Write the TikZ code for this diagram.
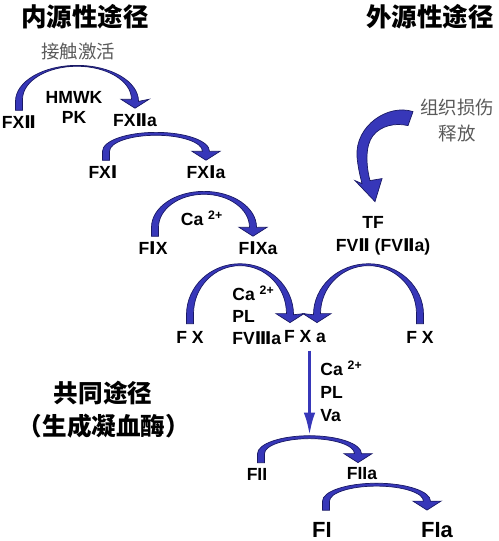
\documentclass[tikz,border=0pt]{standalone}
\usepackage{fontspec}
\setmainfont{Liberation Sans}
\newfontfamily\cjk{Noto Sans CJK SC}
\newfontfamily\rmnfont{DejaVu Sans}
\usetikzlibrary{calc, arrows.meta}

\definecolor{flowblue}{RGB}{55,55,185}
\definecolor{flowdark}{RGB}{25,25,100}
\definecolor{notegray}{RGB}{90,90,90}

\newcommand{\rmn}[1]{{\rmnfont\bfseries #1}}

%curved conversion arrow: height, foot, tip
\newcommand{\activ}[3]{%
	\fill[flowfill] let \p1 = (#2), \p2 = (#3),
		\n1 = {abs(\x2-\x1)/2},
		\n2 = {#1*0.569},
		\n3 = {ifthenelse(\x2>\x1,1,-1)} in
		({\x1-(\n3)*2pt}, {\y1+2.8pt}) -- ({\x1-(\n3)*2pt}, {\y1+7.9pt})
		arc [start angle={90+90*(\n3)}, end angle={90-90*(\n3)}, x radius={(\n1+2)*1pt}, y radius={\n2*1pt}]
		-- ({\x2+(\n3)*8pt}, {\y2+7.9pt}) -- ({\x2}, {\y2+2.8pt}) -- ({\x2-(\n3)*8pt}, {\y2+7.9pt})
		-- ({\x2-(\n3)*2pt}, {\y2+7.9pt})
		arc [start angle={90-90*(\n3)}, end angle={90+90*(\n3)}, x radius={(\n1-2)*1pt}, y radius={(\n2-1.7)*1pt}]
		-- ({\x1+(\n3)*2pt}, {\y1+2.8pt}) -- cycle;
}

\begin{document}
\begin{tikzpicture}[x=0.02cm, y=0.02cm,
		fac/.style={font=\fontsize{10}{12.5}\selectfont\bfseries, inner sep=0pt},
		big/.style={font=\fontsize{12.5}{15}\selectfont\bfseries, inner sep=0pt},
		cof/.style={font=\fontsize{10}{12.5}\selectfont\bfseries, inner sep=0pt, align=left, anchor=west},
		title/.style={font=\cjk\fontsize{14.5}{17}\selectfont\bfseries, inner sep=0pt},
		note/.style={font=\cjk\fontsize{10.5}{14.8}\selectfont, text=notegray, inner sep=0pt, align=center},
		flowfill/.style={fill=flowblue, draw=flowdark, line width=0.4pt},
		downflow/.style={draw=flowblue, line width=1.8pt, -{Latex[length=13pt, width=6.5pt]}, shorten <=4pt}]
		\useasboundingbox (0,0) rectangle (498,541);

		%titles
		\node[title] (intr) at (85,524) {内源性途径};
		\node[title] (extr) at (430,524) {外源性途径};
		\node[title, font=\cjk\fontsize{14}{17}\selectfont\bfseries] (comm) at (103,148) {共同途径};
		\node[title, font=\cjk\fontsize{14}{17}\selectfont\bfseries] (thr) at (104,115) {（生成凝血酶）};
		\node[note] (contact) at (78,489) {接触激活};
		\node[note] (tissue) at (457,420) {组织损伤\\释放};

		%intrinsic
		\node[fac] (FXII) at (19,419) {FX\rmn{Ⅱ}};
		\node[fac, align=center, font=\fontsize{10}{11.4}\selectfont\bfseries] (HK) at (74,434) {HMWK\\PK};
		\node[fac] (FXIIa) at (135,421) {FX\rmn{Ⅱ}a};
		\node[fac] (FXI) at (103,369) {FX\rmn{Ⅰ}};
		\node[fac] (FXIa) at (206,369) {FX\rmn{Ⅰ}a};
		\node[fac] (caA) at (202,323) {Ca \textsuperscript{2+}};
		\node[fac] (FIX) at (153,293) {F\rmn{Ⅰ}X};
		\node[fac] (FIXa) at (258,293) {F\rmn{Ⅰ}Xa};

		%extrinsic
		\node[fac] (TF) at (373,319) {TF};
		\node[fac] (FVII) at (383,294) {FV\rmn{Ⅱ} (FV\rmn{Ⅱ}a)};

		%FX
		\node[fac] (FXl) at (190,204) {F X};
		\node[cof] (cofB) at (232,226) {Ca \textsuperscript{2+}\\PL\\FV\rmn{Ⅲ}a};
		\node[fac] (FXa) at (305,204) {F X a};
		\node[fac] (FXr) at (420,204) {F X};

		%common
		\node[cof, font=\fontsize{10}{13}\selectfont\bfseries] (cofC) at (320,150) {Ca \textsuperscript{2+}\\PL\\Va};
		\node[fac] (FII) at (257,67) {FII};
		\node[fac] (FIIa) at (362,67) {FIIa};
		\node[big] (FI) at (322,11) {FI};
		\node[big] (FIa) at (437,11) {FIa};
		\coordinate (IItop) at ($(FII.north)!0.5!(FIIa.north)+(0,32)$);

		%arrows
		\activ{36}{FXII.north}{FXIIa.north}
		\activ{19}{$(FXI.north)+(3,0)$}{FXIa.north}
		\activ{36}{$(FIX.north)+(2,0)$}{$(FIXa.north)+(-5,0)$}
		\activ{51}{$(FXl.north)+(0,2)$}{$(FXa.north)+(-15,3)$}
		\activ{51}{$(FXr.north)+(0,2)$}{$(FXa.north)+(12,3)$}
		\activ{18}{$(FII.north)+(4,0)$}{$(FIIa.north)+(-4,0)$}
		\activ{18}{$(FI.north)+(4,7)$}{$(FIa.north)+(-10,7)$}
		\draw[downflow] (IItop |- FXa.south) -- (IItop);

		%tissue factor arrow
		\begin{scope}[shift={(TF.north)}]
		\fill[flowfill] (40,104) .. controls (15,112) and (-18,90) .. (-16,59)
			.. controls (-15,48) and (-13,40) .. (-11,32)
			-- (-18,35) -- (2,14) -- (9,37) -- (-3,35)
			.. controls (-7,50) and (-8,70) .. (0,80)
			.. controls (8,90) and (22,93) .. (35,90) -- cycle;
		\end{scope}
	\end{tikzpicture}
\end{document}
